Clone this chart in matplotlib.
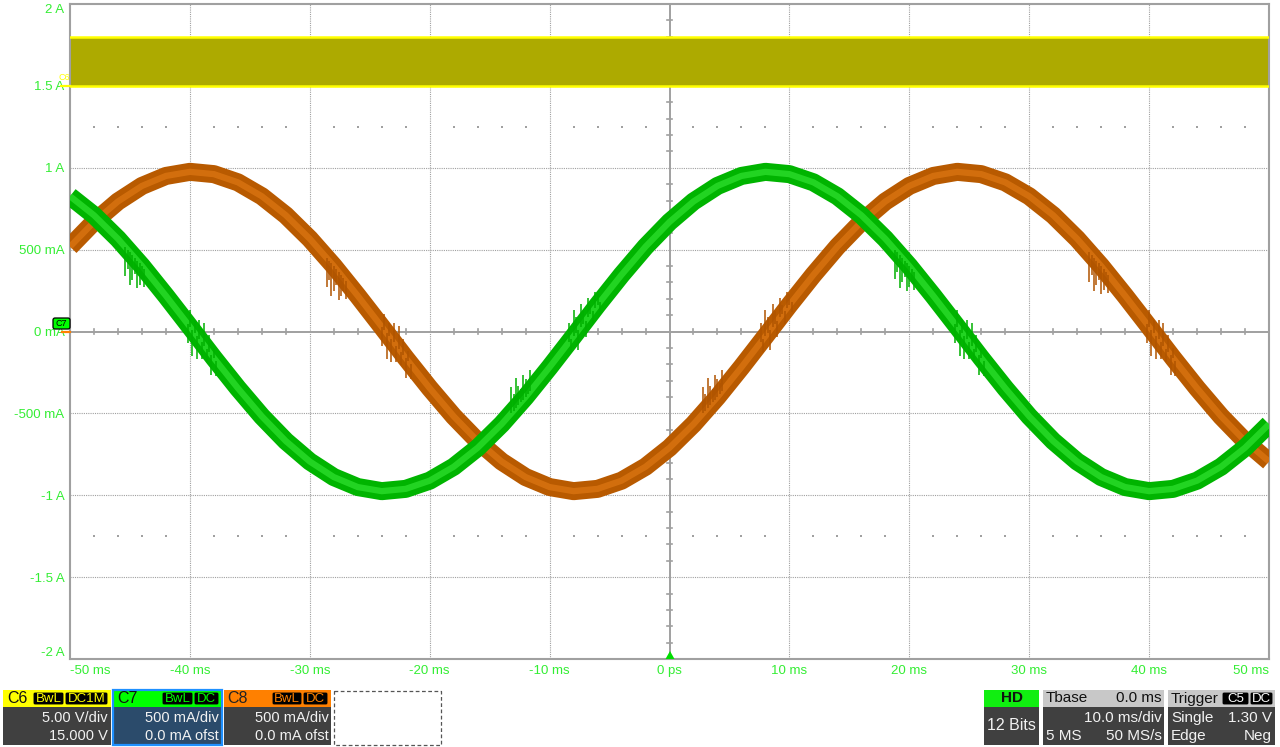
import numpy as np
import matplotlib
matplotlib.use('Agg')
import matplotlib.pyplot as plt
from matplotlib.patches import Rectangle, FancyBboxPatch, Polygon

plt.rcParams['font.family'] = ['Liberation Sans', 'DejaVu Sans']

time_ms = list(range(-50, 52, 2))

# C7 (green) current, A
green_a = [0.826, 0.710, 0.566, 0.400, 0.218, 0.029, -0.162, -0.346, -0.518, -0.669,
           -0.794, -0.889, -0.950, -0.975, -0.961, -0.911, -0.826, -0.710, -0.566, -0.400,
           -0.218, -0.029, 0.162, 0.346, 0.518, 0.669, 0.794, 0.889, 0.950, 0.975,
           0.961, 0.911, 0.826, 0.710, 0.566, 0.400, 0.218, 0.029, -0.162, -0.346,
           -0.518, -0.669, -0.794, -0.889, -0.950, -0.975, -0.961, -0.911, -0.826, -0.710,
           -0.566]
# C8 (orange) current, A
orange_a = [0.518, 0.669, 0.794, 0.889, 0.950, 0.975, 0.961, 0.911, 0.826, 0.710,
            0.566, 0.400, 0.218, 0.029, -0.162, -0.346, -0.518, -0.669, -0.794, -0.889,
            -0.950, -0.975, -0.961, -0.911, -0.826, -0.710, -0.566, -0.400, -0.218, -0.029,
            0.162, 0.346, 0.518, 0.669, 0.794, 0.889, 0.950, 0.975, 0.961, 0.911,
            0.826, 0.710, 0.566, 0.400, 0.218, 0.029, -0.162, -0.346, -0.518, -0.669,
            -0.794]

# C6 (yellow) digital signal levels on screen, display units
c6_low = 1.50
c6_high = 1.80

# switching glitches: time (ms) and excursion (A)
green_spike_t = [-45.4, -45.2, -45.0, -44.8, -44.6, -44.4, -44.2, -44.0, -43.8,
                 -40.2, -40.0, -39.8, -39.6, -39.4, -39.2, -39.0, -38.8, -38.6, -38.4, -38.2, -38.0, -37.8,
                 -13.2, -13.0, -12.8, -12.6, -12.4, -12.2, -12.0, -11.8, -11.6,
                 -8.4, -8.2, -8.0, -7.8, -7.6, -7.4, -7.2, -7.0, -6.8, -6.6, -6.4, -6.2, -6.0, -5.8,
                 18.8, 19.0, 19.2, 19.4, 19.6, 19.8, 20.0, 20.2, 20.4,
                 23.8, 24.0, 24.2, 24.4, 24.6, 24.8, 25.0, 25.2, 25.4, 25.6, 25.8, 26.0, 26.2]
green_spike_d = [-0.18, -0.12, -0.20, -0.15, -0.10, -0.17, -0.13, -0.08, -0.11,
                 -0.12, 0.10, -0.16, 0.08, -0.14, 0.12, -0.10, 0.14, -0.08, 0.10, -0.12, 0.06, -0.09,
                 0.16, 0.10, 0.18, 0.12, 0.08, 0.15, 0.11, 0.07, 0.13,
                 0.12, -0.08, 0.16, 0.10, -0.12, 0.14, 0.08, -0.10, 0.12, 0.06, -0.08, 0.10, 0.07, -0.06,
                 -0.18, -0.12, -0.20, -0.15, -0.10, -0.17, -0.13, -0.08, -0.11,
                 -0.12, 0.10, -0.16, 0.08, -0.14, 0.12, -0.10, 0.14, -0.08, 0.10, -0.12, 0.06, -0.09]
orange_spike_t = [-28.6, -28.4, -28.2, -28.0, -27.8, -27.6, -27.4, -27.2, -27.0,
                  -24.0, -23.8, -23.6, -23.4, -23.2, -23.0, -22.8, -22.6, -22.4, -22.2, -22.0, -21.8, -21.6,
                  2.8, 3.0, 3.2, 3.4, 3.6, 3.8, 4.0, 4.2, 4.4,
                  7.6, 7.8, 8.0, 8.2, 8.4, 8.6, 8.8, 9.0, 9.2, 9.4, 9.6, 9.8, 10.0, 10.2,
                  35.0, 35.2, 35.4, 35.6, 35.8, 36.0, 36.2, 36.4, 36.6,
                  39.8, 40.0, 40.2, 40.4, 40.6, 40.8, 41.0, 41.2, 41.4, 41.6, 41.8, 42.0, 42.2]
orange_spike_d = [-0.18, -0.12, -0.20, -0.15, -0.10, -0.17, -0.13, -0.08, -0.11,
                  -0.12, 0.10, -0.16, 0.08, -0.14, 0.12, -0.10, 0.14, -0.08, 0.10, -0.12, 0.06, -0.09,
                  0.16, 0.10, 0.18, 0.12, 0.08, 0.15, 0.11, 0.07, 0.13,
                  0.12, -0.08, 0.16, 0.10, -0.12, 0.14, 0.08, -0.10, 0.12, 0.06, -0.08, 0.10, 0.07, -0.06,
                  -0.18, -0.12, -0.20, -0.15, -0.10, -0.17, -0.13, -0.08, -0.11,
                  -0.12, 0.10, -0.16, 0.08, -0.14, 0.12, -0.10, 0.14, -0.08, 0.10, -0.12, 0.06, -0.09]

x_ticks = [-50, -40, -30, -20, -10, 0, 10, 20, 30, 40, 50]
x_labels = ['-50 ms', '-40 ms', '-30 ms', '-20 ms', '-10 ms', '0 ps',
            '10 ms', '20 ms', '30 ms', '40 ms', '50 ms']
y_ticks = [-2, -1.5, -1, -0.5, 0, 0.5, 1, 1.5, 2]
y_labels = ['-2 A', '-1.5 A', '-1 A', '-500 mA', '0 mA', '500 mA', '1 A', '1.5 A', '2 A']

# ---------------- figure ----------------
W, H = 1280, 747
fig = plt.figure(figsize=(W / 100, H / 100), dpi=100)
fig.patch.set_facecolor('white')

L, R, T, B = 70, 1269, 4, 659
ax = fig.add_axes([L / W, (H - B) / H, (R - L) / W, (B - T) / H])
ax.set_xlim(-50, 50)
ax.set_ylim(-2, 2)
grid_c = '#a0a0a0'
for s in ax.spines.values():
    s.set_color(grid_c)
    s.set_linewidth(1.5)

# grid
for xv in x_ticks[1:-1]:
    if xv != 0:
        ax.axvline(xv, color=grid_c, lw=0.8, ls=(0, (1, 1)), zorder=1)
for yv in y_ticks[1:-1]:
    if yv != 0:
        ax.axhline(yv, color=grid_c, lw=0.8, ls=(0, (1, 1)), zorder=1)
ax.axhline(0, color=grid_c, lw=1.4, zorder=1)
ax.axvline(0, color=grid_c, lw=1.4, zorder=1)
# crosshair minor ticks
xt = [v for v in range(-50, 51, 2) if v % 10 != 0]
for xv in xt:
    ax.plot([xv, xv], [-0.018, 0.018], color=grid_c, lw=1.2, zorder=1)
yt = [v / 10 for v in range(-20, 21) if v % 5 != 0]
for yv in yt:
    ax.plot([-0.25, 0.25], [yv, yv], color=grid_c, lw=1.2, zorder=1)
# dot rows
for yv in (1.25, -1.25):
    ax.scatter(xt, [yv] * len(xt), s=1.2, marker='s', color=grid_c, lw=0, zorder=1)

# C6 band
ax.fill_between(time_ms, c6_low, c6_high, color='#adaa00', lw=0, zorder=2)
ax.plot(time_ms, [c6_high] * len(time_ms), color='#ffff00', lw=1.8, zorder=3)
ax.plot(time_ms, [c6_low] * len(time_ms), color='#ffff00', lw=1.8, zorder=3)

# traces
ax.plot(time_ms, orange_a, color='#b85a00', lw=13, solid_capstyle='butt',
        solid_joinstyle='round', zorder=4)
ax.plot(time_ms, orange_a, color='#dc7612', lw=4.5, solid_capstyle='butt', alpha=0.75, zorder=4)
ob = np.interp(orange_spike_t, time_ms, orange_a)
ax.vlines(orange_spike_t, ob, ob + np.array(orange_spike_d), color='#b05400', lw=1.1, zorder=4)

ax.plot(time_ms, green_a, color='#00b400', lw=13, solid_capstyle='butt',
        solid_joinstyle='round', zorder=5)
ax.plot(time_ms, green_a, color='#2ee02e', lw=4.5, solid_capstyle='butt', alpha=0.75, zorder=5)
gb = np.interp(green_spike_t, time_ms, green_a)
ax.vlines(green_spike_t, gb, gb + np.array(green_spike_d), color='#00b000', lw=1.1, zorder=5)

# ticks
lab_c = '#33ee33'
ax.set_xticks(x_ticks)
ax.set_xticklabels(x_labels)
ax.set_yticks(y_ticks)
ax.set_yticklabels(y_labels)
ax.tick_params(axis='both', length=0, labelcolor=lab_c, labelsize=9.5)
ax.tick_params(axis='x', pad=4)
ax.tick_params(axis='y', pad=4)
xl = ax.get_xticklabels()
xl[0].set_ha('left')
xl[-1].set_ha('right')
yl = ax.get_yticklabels()
yl[0].set_va('bottom')
yl[-1].set_va('top')

# ---------------- overlay (pixel coords) ----------------
ov = fig.add_axes([0, 0, 1, 1], zorder=10)
ov.set_xlim(0, W)
ov.set_ylim(H, 0)
ov.axis('off')
ov.patch.set_alpha(0)


def box(x0, y0, x1, y1, fc, ec=None, lw=0):
    ov.add_patch(Rectangle((x0, y0), x1 - x0, y1 - y0, fc=fc,
                           ec=ec if ec else fc, lw=lw))


def badge(x0, x1, y0, y1, text, tc, ec):
    ov.add_patch(FancyBboxPatch((x0, y0), x1 - x0, y1 - y0,
                                boxstyle='round,pad=0,rounding_size=2',
                                fc='black', ec=ec, lw=0.8))
    ov.text((x0 + x1) / 2, (y0 + y1) / 2 + 0.5, text, ha='center', va='center',
            fontsize=9.5, color=tc)


def txt(x, y, s, ha='left', c='#f2f2f2', fs=10.5, **kw):
    ov.text(x, y, s, ha=ha, va='center', fontsize=fs, color=c, **kw)


body = '#404040'
hy0, hy1, by1 = 690, 707, 745

# C6
box(3, hy0, 111, hy1, '#ffff00')
box(3, hy1, 111, by1, body)
txt(7, 698.5, 'C6', c='#111111', fs=11.5)
badge(33, 64, 692, 705, 'BwL', '#ffff00', '#ffff00')
badge(65, 108, 692, 705, 'DC1M', '#ffff00', '#ffff00')
txt(108, 718, '5.00 V/div', ha='right')
txt(108, 736, '15.000 V', ha='right')

# C7
box(113, hy0, 222, hy1, '#00ff00')
box(113, hy1, 222, by1, '#2b4b6b')
ov.add_patch(Rectangle((113, hy0), 109, by1 - hy0, fill=False, ec='#1e90ff', lw=1.6))
txt(117, 698.5, 'C7', c='#111111', fs=11.5)
badge(162, 193, 692, 705, 'BwL', '#00ff00', '#00ff00')
badge(194, 219, 692, 705, 'DC', '#00ff00', '#00ff00')
txt(219, 718, '500 mA/div', ha='right')
txt(219, 736, '0.0 mA ofst', ha='right')

# C8
box(224, hy0, 331, hy1, '#ff8000')
box(224, hy1, 331, by1, body)
txt(227, 698.5, 'C8', c='#222222', fs=11.5)
badge(272, 302, 692, 705, 'BwL', '#ff8000', '#ff8000')
badge(303, 328, 692, 705, 'DC', '#ff8000', '#ff8000')
txt(329, 718, '500 mA/div', ha='right')
txt(329, 736, '0.0 mA ofst', ha='right')

# empty slot
ov.add_patch(Rectangle((334, 691), 107, 54, fill=False, ec='#555555', lw=0.9,
                       ls=(0, (3, 2))))

# HD
box(984, hy0, 1039, hy1, '#11ee11')
box(984, hy1, 1039, by1, body)
txt(1011.5, 698.5, 'HD', ha='center', c='#111111', fs=11, fontweight='bold')
txt(1011.5, 726, '12 Bits', ha='center', fs=11.5)

# Tbase
box(1043, hy0, 1164, hy1, '#c8c8c8')
box(1043, hy1, 1164, by1, body)
txt(1046, 698.5, 'Tbase', c='#111111', fs=11)
txt(1162, 698.5, '0.0 ms', ha='right', c='#111111', fs=11)
txt(1162, 718, '10.0 ms/div', ha='right', fs=11)
txt(1046, 736, '5 MS', fs=11)
txt(1162, 736, '50 MS/s', ha='right', fs=11)

# Trigger
box(1168, hy0, 1275, hy1, '#c8c8c8')
box(1168, hy1, 1275, by1, body)
txt(1171, 698.5, 'Trigger', c='#111111', fs=11)
badge(1222, 1249, 692, 705, 'C5', 'white', '#c8c8c8')
badge(1250, 1273, 692, 705, 'DC', 'white', '#c8c8c8')
txt(1171, 718, 'Single', fs=11)
txt(1272, 718, '1.30 V', ha='right', fs=11)
txt(1171, 736, 'Edge', fs=11)
txt(1272, 736, 'Neg', ha='right', fs=11)

# channel markers at the left edge
ov.plot([61, 70], [85.5, 85.5], color='#ffff00', lw=1.6)
ov.text(64, 78, 'C6', ha='center', va='center', fontsize=6.5, color='#ffff00')
ov.plot([62, 70], [332, 332], color='#ff8000', lw=1.6)
ov.add_patch(FancyBboxPatch((53, 318), 17, 11, boxstyle='round,pad=0,rounding_size=2',
                            fc='#00ff00', ec='black', lw=0.9))
ov.text(61.5, 323.8, 'C7', ha='center', va='center', fontsize=6.5, color='black')

# trigger marker
ov.add_patch(Polygon([[665.5, 659], [674.5, 659], [670, 651]], closed=True,
                     fc='#00dd00', ec='none'))

fig.savefig('out.png', dpi=100, facecolor='white')
